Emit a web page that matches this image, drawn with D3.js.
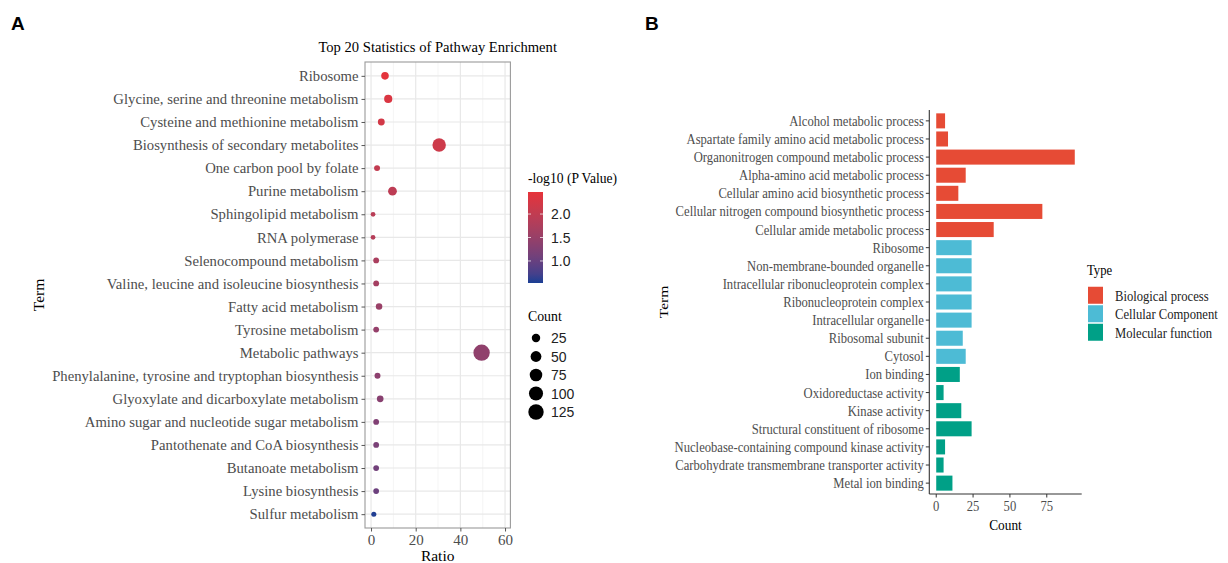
<!DOCTYPE html>
<html>
<head>
<meta charset="utf-8">
<script src="https://cdn.jsdelivr.net/npm/d3@7"></script>
<style>
  body { margin: 0; background: #fff; }
  svg { display: block; }
  text { font-family: "Liberation Serif", "Times New Roman", serif; }
  .sans { font-family: "Liberation Sans", Arial, sans-serif; }
</style>
</head>
<body>
<svg width="1228" height="563"></svg>
<script>
// ---- Panel A data : KEGG pathway enrichment ----
var termsA = ["Ribosome", "Glycine, serine and threonine metabolism", "Cysteine and methionine metabolism",
  "Biosynthesis of secondary metabolites", "One carbon pool by folate", "Purine metabolism",
  "Sphingolipid metabolism", "RNA polymerase", "Selenocompound metabolism",
  "Valine, leucine and isoleucine biosynthesis", "Fatty acid metabolism", "Tyrosine metabolism",
  "Metabolic pathways", "Phenylalanine, tyrosine and tryptophan biosynthesis",
  "Glyoxylate and dicarboxylate metabolism", "Amino sugar and nucleotide sugar metabolism",
  "Pantothenate and CoA biosynthesis", "Butanoate metabolism", "Lysine biosynthesis", "Sulfur metabolism"];
var ratioA = [6.25, 7.7, 4.6, 30.5, 2.7, 9.6, 0.9, 0.9, 2.3, 2.3, 3.6, 2.3, 49.5, 2.9, 4.1, 2.3, 2.3, 2.3, 2.3, 1.25];
var countA = [18, 23, 13, 90, 8, 28, 3, 3, 7, 7, 11, 7, 145, 8, 12, 7, 7, 7, 7, 4];
var pvalA = [2.44, 2.32, 2.22, 2.15, 2.02, 1.95, 1.9, 1.85, 1.72, 1.65, 1.52, 1.47, 1.42, 1.38, 1.33, 1.25, 1.18, 1.1, 1.04, 0.55];
var ratioTicks = [0, 20, 40, 60];
var pvalTicks = [1.0, 1.5, 2.0];
var countLegend = [25, 50, 75, 100, 125];

// ---- Panel B data : GO terms ----
var termsB = ["Alcohol metabolic process", "Aspartate family amino acid metabolic process",
  "Organonitrogen compound metabolic process", "Alpha-amino acid metabolic process",
  "Cellular amino acid biosynthetic process", "Cellular nitrogen compound biosynthetic process",
  "Cellular amide metabolic process", "Ribosome", "Non-membrane-bounded organelle",
  "Intracellular ribonucleoprotein complex", "Ribonucleoprotein complex", "Intracellular organelle",
  "Ribosomal subunit", "Cytosol", "Ion binding", "Oxidoreductase activity", "Kinase activity",
  "Structural constituent of ribosome", "Nucleobase-containing compound kinase activity",
  "Carbohydrate transmembrane transporter activity", "Metal ion binding"];
var countB = [6, 8, 94, 20, 15, 72, 39, 24, 24, 24, 24, 24, 18, 20, 16, 5, 17, 24, 6, 5, 11];
var typeB = ["Biological process", "Biological process", "Biological process", "Biological process",
  "Biological process", "Biological process", "Biological process",
  "Cellular Component", "Cellular Component", "Cellular Component", "Cellular Component",
  "Cellular Component", "Cellular Component", "Cellular Component",
  "Molecular function", "Molecular function", "Molecular function", "Molecular function",
  "Molecular function", "Molecular function", "Molecular function"];
var typeNames = ["Biological process", "Cellular Component", "Molecular function"];
var countTicks = [0, 25, 50, 75];

var svg = d3.select("svg");
var grey = "#4d4d4d";

// panel letters
svg.append("text").attr("class", "sans").attr("x", 11).attr("y", 30)
  .attr("font-size", 19).attr("font-weight", "bold").text("A");
svg.append("text").attr("class", "sans").attr("x", 645).attr("y", 30)
  .attr("font-size", 19).attr("font-weight", "bold").text("B");

// ================= Panel A =================
var pa = {left: 365, right: 510.4, top: 62, bottom: 528};
var x = d3.scaleLinear().domain([-2.7, 62.4]).range([pa.left, pa.right]);
var y = d3.scalePoint().domain(termsA).range([pa.top, pa.bottom]).padding(0.6);
var r = d3.scaleSqrt().domain([0, 150]).range([1.4, 8.3]);
var col = d3.scaleLinear().domain([0.53, 2.47]).range(["#1a3f94", "#e6333a"]).interpolate(d3.interpolateLab);

var gA = svg.append("g");

// grid
gA.selectAll(".minor").data([10, 30, 50]).enter().append("line")
  .attr("x1", x).attr("x2", x).attr("y1", pa.top).attr("y2", pa.bottom)
  .attr("stroke", "#f2f2f2").attr("stroke-width", 0.8);
gA.selectAll(".major").data(ratioTicks).enter().append("line")
  .attr("x1", x).attr("x2", x).attr("y1", pa.top).attr("y2", pa.bottom)
  .attr("stroke", "#e8e8e8").attr("stroke-width", 1.2);
gA.selectAll(".hgrid").data(termsA).enter().append("line")
  .attr("x1", pa.left).attr("x2", pa.right).attr("y1", y).attr("y2", y)
  .attr("stroke", "#e8e8e8").attr("stroke-width", 1.2);

// dots
var dotsA = termsA.map(function(t, i) { return {term: t, ratio: ratioA[i], count: countA[i], p: pvalA[i]}; });
gA.selectAll("circle").data(dotsA).enter().append("circle")
  .attr("cx", function(d) { return x(d.ratio); })
  .attr("cy", function(d) { return y(d.term); })
  .attr("r", function(d) { return r(d.count); })
  .attr("fill", function(d) { return col(d.p); });

gA.append("rect").attr("x", pa.left).attr("y", pa.top)
  .attr("width", pa.right - pa.left).attr("height", pa.bottom - pa.top)
  .attr("fill", "none").attr("stroke", "#9a9a9a").attr("stroke-width", 1.1);

// axes
var axY = gA.append("g").attr("transform", "translate(" + pa.left + ",0)")
  .call(d3.axisLeft(y).tickSize(3.5).tickPadding(3));
axY.select(".domain").remove();
axY.selectAll("line").attr("stroke", "#555");
axY.selectAll("text").attr("font-family", "Liberation Serif").attr("font-size", 14.7).attr("fill", grey);

var axX = gA.append("g").attr("transform", "translate(0," + pa.bottom + ")")
  .call(d3.axisBottom(x).tickValues(ratioTicks).tickSize(3.5).tickPadding(3));
axX.select(".domain").remove();
axX.selectAll("line").attr("stroke", "#555");
axX.selectAll("text").attr("font-family", "Liberation Sans").attr("font-size", 15).attr("fill", grey);

gA.append("text").attr("x", (pa.left + pa.right) / 2).attr("y", 52)
  .attr("text-anchor", "middle").attr("font-size", 14.6).text("Top 20 Statistics of Pathway Enrichment");
gA.append("text").attr("x", (pa.left + pa.right) / 2).attr("y", 561)
  .attr("text-anchor", "middle").attr("font-size", 15.5).text("Ratio");
gA.append("text").attr("transform", "translate(44," + (pa.top + pa.bottom) / 2 + ") rotate(-90)")
  .attr("text-anchor", "middle").attr("font-size", 15.5).text("Term");

// colour legend
gA.append("text").attr("x", 528).attr("y", 183).attr("font-size", 13.6).text("-log10 (P Value)");
var defs = svg.append("defs");
var grad = defs.append("linearGradient").attr("id", "pgrad")
  .attr("x1", 0).attr("x2", 0).attr("y1", 1).attr("y2", 0);
d3.range(0, 1.01, 0.1).forEach(function(t) {
  grad.append("stop").attr("offset", t).attr("stop-color", col(0.53 + t * (2.47 - 0.53)));
});
var cb = {x: 528, w: 15, top: 192, bottom: 283};
var cy = d3.scaleLinear().domain([0.53, 2.47]).range([cb.bottom, cb.top]);
gA.append("rect").attr("x", cb.x).attr("y", cb.top).attr("width", cb.w)
  .attr("height", cb.bottom - cb.top).attr("fill", "url(#pgrad)");
gA.selectAll(".cbt1").data(pvalTicks).enter().append("line")
  .attr("x1", cb.x).attr("x2", cb.x + 3).attr("y1", cy).attr("y2", cy)
  .attr("stroke", "#fff").attr("stroke-opacity", 0.7);
gA.selectAll(".cbt2").data(pvalTicks).enter().append("line")
  .attr("x1", cb.x + cb.w - 3).attr("x2", cb.x + cb.w).attr("y1", cy).attr("y2", cy)
  .attr("stroke", "#fff").attr("stroke-opacity", 0.7);
gA.selectAll(".cbl").data(pvalTicks).enter().append("text").attr("class", "sans")
  .attr("x", 551).attr("y", cy).attr("dy", "0.36em").attr("font-size", 14).attr("fill", "#222")
  .text(function(d) { return d.toFixed(1); });

// size legend
gA.append("text").attr("x", 528).attr("y", 321).attr("font-size", 13.8).text("Count");
var sl = gA.selectAll(".sl").data(countLegend).enter().append("g")
  .attr("transform", function(d, i) { return "translate(536," + (338 + i * 18.5) + ")"; });
sl.append("circle").attr("r", r).attr("fill", "#000");
sl.append("text").attr("class", "sans").attr("x", 15).attr("dy", "0.36em")
  .attr("font-size", 14).attr("fill", "#222").text(function(d) { return d; });

// ================= Panel B =================
var pb = {left: 929.3, right: 1081.7, top: 110, bottom: 494};
var sx = 0.86; // panel B is horizontally condensed
var xb = d3.scaleLinear().domain([-4.7, 98.7]).range([pb.left, pb.right]);
var yb = d3.scaleBand().domain(termsB).range([pb.top, pb.bottom]).paddingInner(0.17).paddingOuter(0.185);
var zb = d3.scaleOrdinal().domain(typeNames).range(["#E64B35", "#4DBBD5", "#00A087"]);

var gB = svg.append("g");
var barsB = termsB.map(function(t, i) { return {term: t, count: countB[i], type: typeB[i]}; });
gB.selectAll("rect").data(barsB).enter().append("rect")
  .attr("x", xb(0))
  .attr("y", function(d) { return yb(d.term); })
  .attr("width", function(d) { return xb(d.count) - xb(0); })
  .attr("height", yb.bandwidth())
  .attr("fill", function(d) { return zb(d.type); });

// axis lines
gB.append("line").attr("x1", pb.left).attr("x2", pb.left).attr("y1", pb.top).attr("y2", pb.bottom)
  .attr("stroke", "#333").attr("stroke-width", 1.1);
gB.append("line").attr("x1", pb.left).attr("x2", pb.right).attr("y1", pb.bottom).attr("y2", pb.bottom)
  .attr("stroke", "#333").attr("stroke-width", 1.1);

// y ticks / labels
var yt = gB.selectAll(".yt").data(termsB).enter().append("g")
  .attr("transform", function(d) { return "translate(" + pb.left + "," + (yb(d) + yb.bandwidth() / 2) + ")"; });
yt.append("line").attr("x1", -3.5).attr("x2", 0).attr("stroke", "#333");
yt.append("text").attr("transform", "translate(-5.5,0) scale(" + sx + ",1)")
  .attr("text-anchor", "end").attr("dy", "0.34em").attr("font-size", 14.7).attr("fill", grey)
  .text(function(d) { return d; });

// x ticks / labels
var xt = gB.selectAll(".xt").data(countTicks).enter().append("g")
  .attr("transform", function(d) { return "translate(" + xb(d) + "," + pb.bottom + ")"; });
xt.append("line").attr("y1", 0).attr("y2", 3.5).attr("stroke", "#333");
xt.append("text").attr("transform", "translate(0,17) scale(" + sx + ",1)")
  .attr("text-anchor", "middle").attr("font-size", 14.7).attr("fill", grey)
  .text(function(d) { return d; });

gB.append("text").attr("transform", "translate(" + (pb.left + pb.right) / 2 + ",530) scale(" + sx + ",1)")
  .attr("text-anchor", "middle").attr("font-size", 15.5).text("Count");
gB.append("text").attr("transform", "translate(668," + (pb.top + pb.bottom) / 2 + ") rotate(-90) scale(1," + sx + ")")
  .attr("text-anchor", "middle").attr("font-size", 15.5).text("Term");

// legend
gB.append("text").attr("transform", "translate(1087,275) scale(" + sx + ",1)")
  .attr("font-size", 14.7).text("Type");
var lg = gB.selectAll(".lg").data(typeNames).enter().append("g")
  .attr("transform", function(d, i) { return "translate(1088," + (286 + i * 18.5) + ")"; });
lg.append("rect").attr("width", 15).attr("height", 17).attr("y", 0.75).attr("fill", zb);
lg.append("text").attr("transform", "translate(27,9.5) scale(" + sx + ",1)")
  .attr("dy", "0.34em").attr("font-size", 14.7).attr("fill", "#222").text(function(d) { return d; });
</script>
</body>
</html>
